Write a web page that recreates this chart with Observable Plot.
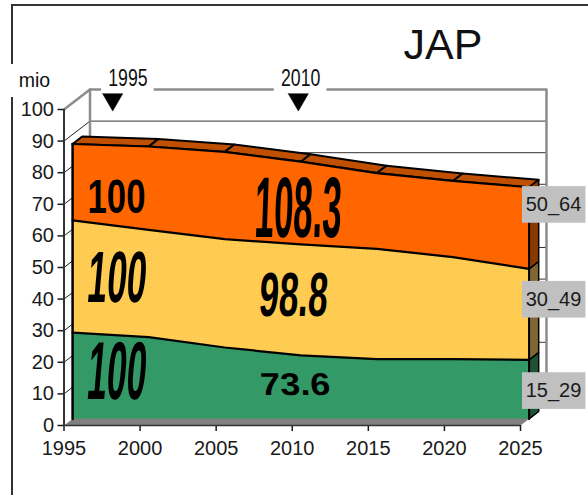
<!DOCTYPE html>
<html>
<head>
<meta charset="utf-8">
<script src="https://cdn.jsdelivr.net/npm/d3@7"></script>
<script src="https://cdn.jsdelivr.net/npm/@observablehq/plot@0.6"></script>
<style>
  html, body { margin: 0; padding: 0; background: #fff; }
  #page { position: relative; width: 588px; height: 495px; overflow: hidden; }
  #frame { position: absolute; left: 11px; top: 4px; width: 600px; height: 520px;
           border-left: 2px solid #333; border-top: 2px solid #333; }
  #unitGap { position: absolute; left: 9px; top: 64px; width: 45px; height: 33px; background: #fff; }
  #page svg { position: absolute; left: 0; top: 0; background: transparent; }
</style>
</head>
<body>
<div id="page">
  <div id="frame"></div>
  <div id="unitGap"></div>
  <svg width="0" height="0">
    <defs>
      <pattern id="dither" width="2" height="2" patternUnits="userSpaceOnUse">
        <rect width="2" height="2" fill="#ffcb50"></rect>
        <rect width="1" height="1" fill="#ffd060"></rect>
        <rect x="1" y="1" width="1" height="1" fill="#fcc848"></rect>
      </pattern>
    </defs>
  </svg>
</div>
<script>
// Working-age population of Japan, millions, by age group
const years = [1995, 2000, 2005, 2010, 2015, 2020, 2025];
const age15to29 = [27.3, 25.9, 22.6, 20.1, 18.9, 18.9, 18.7];
const age30to49 = [35.5, 33.9, 34.3, 35.1, 34.9, 32.3, 28.8];
const age50to64 = [24.2, 26.4, 27.6, 26.2, 24.0, 24.1, 25.8];
const groupNames = ["15_29", "30_49", "50_64"];

// Index values, 1995 = 100, written on the bands
const indexLabels = ["100", "100", "100", "108.3", "98.8", "73.6"];
const indexX = [1998.5, 1998.5, 1998.45, 2010.4, 2010.1, 2010.2];
const indexY = [16.6, 46.4, 72.2, 68.4, 41.0, 13.0];
// Per-label lettering distortion: horizontal scale, vertical scale, lean
const indexWarp = [[0.885, 2.05, -5], [0.885, 1.82, -5], [0.87, 1.19, 0], [0.87, 2.15, -2], [0.88, 1.56, -4], [0.9, 0.79, 3]];

// Reference years flagged above the plot
const flagLabels = ["1995", "2010"];
const flagX = [1998.2, 2010.4];
const flagTextX = [1999.2, 2010.55];

// Oblique projection: depth 0 is the axis plane, depth 1 the back wall
const depthYears = 1.708, depthValue = 6.33;
const planeFront = 0.33, planeBack = 0.7;
const project = (year, value, depth) => ({x: year + depth * depthYears, y: value + depth * depthValue});

// Cumulative band boundaries
const stackLow = years.map(() => 0);
const stack1 = age15to29;
const stack2 = stack1.map((v, i) => v + age30to49[i]);
const stack3 = stack2.map((v, i) => v + age50to64[i]);

const last = years.length - 1;
const front = (vals) => years.map((yr, i) => project(yr, vals[i], planeFront));
const bandRows = (lo, hi) => years.map((yr, i) => {
  const a = project(yr, lo[i], planeFront), b = project(yr, hi[i], planeFront);
  return {x: a.x, y1: a.y, y2: b.y};
});
const quad = (pts) => [...pts, pts[0]];

// Ends of the bands on the right, each a slanted face
const endFace = (lo, hi) => quad([
  project(2025, lo[last], planeFront), project(2025, hi[last], planeFront),
  project(2025, hi[last], planeBack), project(2025, lo[last], planeBack)
]);

// Top surface of the stack, one panel per interval
const topPanels = years.slice(0, -1).map((yr, i) => quad([
  project(yr, stack3[i], planeFront), project(years[i + 1], stack3[i + 1], planeFront),
  project(years[i + 1], stack3[i + 1], planeBack), project(yr, stack3[i], planeBack)
]));

const grid = d3.range(0, 100, 10);

// Stretches each label of a text mark by its own warp entry
const warped = (warps) => (index, scales, values, dims, ctx, next) => {
  const g = next(index, scales, values, dims, ctx);
  d3.select(g).selectAll("text").each(function (_, i) {
    const [sx, sy, lean] = warps[index[i]];
    const t = this.getAttribute("transform") || "";
    this.setAttribute("transform", `${t} skewX(${lean}) scale(${sx},${sy})`);
  });
  return g;
};

const seg = (a, b) => [a, b];
const polys = (list, opts) => list.map((p) => Plot.line(p, {x: "x", y: "y", curve: "linear", ...opts}));

const labelRows = groupNames.map((name, i) => ({name, y: [10.9, 39.8, 69.8][i]}));

const chart = Plot.plot({
  width: 588,
  height: 495,
  marginLeft: 63.5,
  marginRight: 68,
  marginTop: 109,
  marginBottom: 70,
  x: {domain: [1995, 2025]},
  y: {domain: [0, 100]},
  style: {background: "transparent", fontFamily: "'Liberation Sans', Arial, sans-serif", overflow: "visible"},
  marks: [
    // Back wall grid and the slanted lines on the left wall
    grid.filter((v) => v > 0).map((v) => Plot.line([project(1995, v, 1), project(2025, v, 1)],
      {x: "x", y: "y", stroke: "#333", strokeWidth: 1})),
    grid.filter((v) => v > 0).map((v) => Plot.line(seg(project(1995, v, 0), project(1995, v, 1)),
      {x: "x", y: "y", stroke: "#222", strokeWidth: 1})),

    // Wall outline
    Plot.line([project(1995, 100, 0), project(1995, 100, 1), project(2025, 100, 1), project(2025, 0, 1)],
      {x: "x", y: "y", stroke: "#8c8c8c", strokeWidth: 2.5}),
    Plot.line([project(1995, 0, 1), project(1995, 100, 1)], {x: "x", y: "y", stroke: "#8c8c8c", strokeWidth: 2.5}),

    // Floor strip
    Plot.line(quad([project(1995, 0, 0), project(2025, 0, 0), project(2025, 0, planeBack), project(1995, 0, planeBack)]),
      {x: "x", y: "y", fill: "#808080", stroke: "none"}),

    // Top surface
    polys(topPanels, {fill: "#c05000", stroke: "#000", strokeWidth: 2, strokeLinejoin: "round"}),

    // Right-hand end faces
    polys([endFace(stackLow, stack1)], {fill: "#1d5233", stroke: "#000", strokeWidth: 1.5}),
    polys([endFace(stack1, stack2)], {fill: "#806630", stroke: "#000", strokeWidth: 1.5}),
    polys([endFace(stack2, stack3)], {fill: "#8a3a00", stroke: "#000", strokeWidth: 1.5}),

    // Front faces of the three bands
    Plot.areaY(bandRows(stackLow, stack1), {x: "x", y1: "y1", y2: "y2", fill: "#339966"}),
    Plot.areaY(bandRows(stack1, stack2), {x: "x", y1: "y1", y2: "y2", fill: "url(#dither)"}),
    Plot.areaY(bandRows(stack2, stack3), {x: "x", y1: "y1", y2: "y2", fill: "#ff6600"}),

    // Band outlines
    [stack1, stack2, stack3].map((s) => Plot.line(front(s), {x: "x", y: "y", stroke: "#000", strokeWidth: 2.2})),
    Plot.line(seg(project(1995, 0, planeFront), project(1995, stack3[0], planeFront)), {x: "x", y: "y", stroke: "#000", strokeWidth: 2.5}),
    Plot.line(seg(project(2025, 0, planeFront), project(2025, stack3[last], planeFront)), {x: "x", y: "y", stroke: "#000", strokeWidth: 2}),

    // Axes
    Plot.axisY({ticks: d3.range(0, 101, 10), tickSize: 6, tickPadding: 4, fontSize: 20, label: null, color: "#1a1a1a", strokeWidth: 1.5}),
    Plot.axisX({ticks: d3.range(1995, 2026, 5), tickFormat: "d", tickSize: 6, tickPadding: 9, fontSize: 20, label: null, color: "#1a1a1a", strokeWidth: 1.5}),
    Plot.ruleX([1995], {stroke: "#333", strokeWidth: 2}),
    Plot.ruleY([0], {stroke: "#333", strokeWidth: 1.5}),

    // Knockouts behind the flag captions, then flags and captions
    Plot.rect(flagLabels, {
      x1: (d, i) => flagTextX[i] - 1.73, x2: (d, i) => flagTextX[i] + 1.73,
      y1: 105.6, y2: 115, fill: "#fff"
    }),
    flagX.map((x) => Plot.line(quad([{x: x - 0.66, y: 105}, {x: x + 0.66, y: 105}, {x, y: 99.5}]),
      {x: "x", y: "y", fill: "#000", stroke: "#000", strokeWidth: 0.5})),
    Plot.text(flagLabels, {
      x: (d, i) => flagTextX[i], y: 109.8, text: (d) => d,
      fontSize: 23, fill: "#111", render: warped(flagLabels.map(() => [0.77, 1, 0]))
    }),

    // Index values on the bands
    Plot.text(indexLabels, {
      x: (d, i) => indexX[i], y: (d, i) => indexY[i], text: (d) => d,
      fontSize: 40, fontWeight: "bold", fill: "#000",
      render: warped(indexWarp)
    }),

    // Series name tags
    Plot.rect(labelRows, {
      x1: 2025.13, x2: 2029.3, y1: (d) => d.y - 5.8, y2: (d) => d.y + 5.8, fill: "#c0c0c0"
    }),
    Plot.text(labelRows, {
      x: 2027.17, y: "y", text: "name", fontSize: 20, fill: "#1a1a1a"
    }),

    // Chart title and unit
    Plot.text(["JAP"], {x: 2019.9, y: 120.3, text: (d) => d, fontSize: 43, fill: "#111"}),
    Plot.text(["mio"], {x: 1993.06, y: 109.2, text: (d) => d, fontSize: 19.5, fill: "#111"})
  ]
});
document.getElementById("page").appendChild(chart);
</script>
</body>
</html>
